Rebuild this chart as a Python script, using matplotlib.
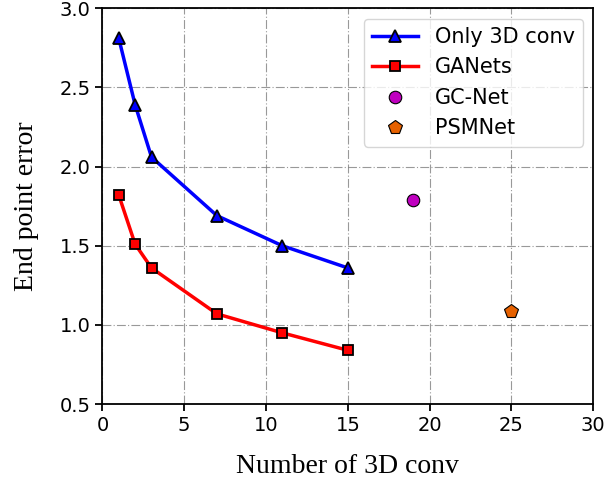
import numpy as np
import matplotlib.pyplot as plt

# number of 3D conv layers vs end point error
n_conv = [1, 2, 3, 7, 11, 15]
only3d = [2.81, 2.39, 2.06, 1.69, 1.50, 1.36]
ganets = [1.82, 1.51, 1.36, 1.07, 0.95, 0.84]
gcnet_x, gcnet_y = [19], [1.79]
psm_x, psm_y = [25], [1.09]

fig = plt.figure(figsize=(6.06, 4.84), dpi=100)
ax = fig.add_axes([0.169, 0.165, 0.810, 0.818])

ax.plot(n_conv, only3d, '-^', color='blue', lw=2.5, ms=9, mfc='blue', mec='black',
        mew=1.3, label='Only 3D conv')
ax.plot(n_conv, ganets, '-s', color='red', lw=2.5, ms=6.5, mfc='red', mec='black',
        mew=1.3, label='GANets')
ax.plot(gcnet_x, gcnet_y, 'o', ms=9, mfc='m', mec='black', mew=0.8, label='GC-Net',
        linestyle='none')
ax.plot(psm_x, psm_y, 'p', ms=10, mfc='#e66100', mec='black', mew=0.8, label='PSMNet',
        linestyle='none')

ax.set_xlim(0, 30)
ax.set_ylim(0.5, 3.0)
ax.set_xticks(np.arange(0, 31, 5))
ax.set_yticks(np.arange(0.5, 3.01, 0.5))
ax.tick_params(labelsize=14, width=1.3, length=5)
for s in ax.spines.values():
    s.set_linewidth(1.3)
ax.grid(True, linestyle=(0, (8, 2, 1, 2)), color='gray', lw=0.8, alpha=0.8)

ax.set_xlabel('Number of 3D conv', family='Liberation Serif', fontsize=20, labelpad=14)
ax.set_ylabel('End point error', family='Liberation Serif', fontsize=20, labelpad=15)

ax.legend(loc='upper right', fontsize=15, handlelength=2.2)

fig.savefig('out.png', dpi=100)
